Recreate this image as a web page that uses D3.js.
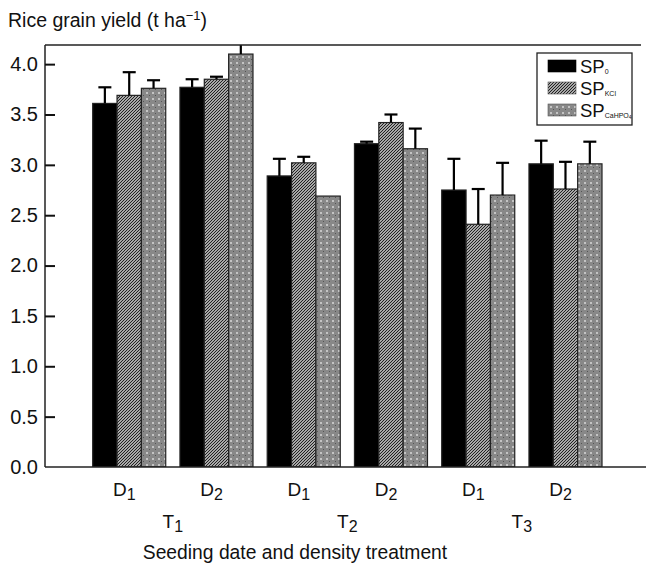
<!DOCTYPE html>
<html>
<head>
<meta charset="utf-8">
<script src="https://cdn.jsdelivr.net/npm/d3@7/dist/d3.min.js"></script>
<style>
  html, body { margin: 0; padding: 0; background: #fff; }
  svg { display: block; }
  text { font-family: "Liberation Sans", Arial, sans-serif; fill: #111; }
</style>
</head>
<body>
<svg id="chart" width="646" height="565"></svg>
<script>
// Treatment combinations (seeding date T × density D)
const groups = ["T1D1", "T1D2", "T2D1", "T2D2", "T3D1", "T3D2"];
const densityLabels = ["1", "2", "1", "2", "1", "2"];
const dateLabels = ["1", "2", "3"];

// Phosphorus treatments
const seriesKeys = ["sp0", "spKCl", "spCaHPO4"];
const seriesSubs = ["0", "KCl", "CaHPO4"];

// Mean grain yield (t/ha) and upper error (t/ha)
const sp0 = [3.61, 3.77, 2.89, 3.21, 2.75, 3.01];
const sp0Err = [0.16, 0.08, 0.17, 0.02, 0.31, 0.23];
const spKCl = [3.69, 3.85, 3.02, 3.42, 2.41, 2.76];
const spKClErr = [0.23, 0.025, 0.06, 0.08, 0.35, 0.27];
const spCaHPO4 = [3.76, 4.10, 2.69, 3.16, 2.70, 3.01];
const spCaHPO4Err = [0.08, 0.15, 0, 0.20, 0.32, 0.22];

const yTicks = [0, 0.5, 1.0, 1.5, 2.0, 2.5, 3.0, 3.5, 4.0];

const values = { sp0, spKCl, spCaHPO4 };
const errors = { sp0: sp0Err, spKCl: spKClErr, spCaHPO4: spCaHPO4Err };

const svg = d3.select("#chart");

const plot = { left: 45, right: 641, top: 45, bottom: 467 };

const y = d3.scaleLinear().domain([0, 4.19]).range([plot.bottom, plot.top]);
const xGroup = d3.scaleBand().domain(groups).range([92.7, 602]).paddingInner(0.163).paddingOuter(0);
const xSeries = d3.scaleBand().domain(seriesKeys).range([0, xGroup.bandwidth()]);

// Fill patterns
const defs = svg.append("defs");
const hatch = defs.append("pattern")
  .attr("id", "hatch").attr("patternUnits", "userSpaceOnUse")
  .attr("width", 3).attr("height", 3);
hatch.append("rect").attr("width", 3).attr("height", 3).attr("fill", "#e8e8e8");
hatch.append("path").attr("d", "M-1,1 l2,-2 M0,3 l3,-3 M2,4 l2,-2")
  .attr("stroke", "#1a1a1a").attr("stroke-width", 1.2);

const dots = defs.append("pattern")
  .attr("id", "dots").attr("patternUnits", "userSpaceOnUse")
  .attr("width", 6).attr("height", 6);
dots.append("rect").attr("width", 6).attr("height", 6).attr("fill", "#888");
dots.append("rect").attr("x", 2).attr("y", 2).attr("width", 2).attr("height", 2).attr("fill", "#c4c4c4");
dots.append("rect").attr("x", 5).attr("y", 5).attr("width", 1).attr("height", 1).attr("fill", "#555");

const fills = { sp0: "#000", spKCl: "url(#hatch)", spCaHPO4: "url(#dots)" };

defs.append("clipPath").attr("id", "plotclip")
  .append("rect").attr("x", plot.left).attr("y", plot.top)
  .attr("width", plot.right - plot.left).attr("height", plot.bottom - plot.top);

// Bars
const barData = [];
groups.forEach((g, i) => {
  seriesKeys.forEach(k => {
    barData.push({ g, k, v: values[k][i], e: errors[k][i] });
  });
});

const gBars = svg.append("g").attr("clip-path", "url(#plotclip)");

gBars.selectAll("rect.bar").data(barData).join("rect")
  .attr("class", "bar")
  .attr("x", d => xGroup(d.g) + xSeries(d.k))
  .attr("y", d => y(d.v))
  .attr("width", xSeries.bandwidth())
  .attr("height", d => y(0) - y(d.v))
  .attr("fill", d => fills[d.k])
  .attr("stroke", "#222")
  .attr("stroke-width", 1.2);

// Upper error bars
const errData = barData.filter(d => d.e > 0);
const capHalf = 6.5;
const cx = d => xGroup(d.g) + xSeries(d.k) + xSeries.bandwidth() / 2;
gBars.selectAll("line.err").data(errData).join("line")
  .attr("class", "err")
  .attr("x1", cx).attr("x2", cx)
  .attr("y1", d => y(d.v))
  .attr("y2", d => y(d.v + d.e))
  .attr("stroke", "#000").attr("stroke-width", 2.2);
gBars.selectAll("line.cap").data(errData).join("line")
  .attr("class", "cap")
  .attr("x1", d => cx(d) - capHalf)
  .attr("x2", d => cx(d) + capHalf)
  .attr("y1", d => y(d.v + d.e))
  .attr("y2", d => y(d.v + d.e))
  .attr("stroke", "#000").attr("stroke-width", 2.2);

// Frame lines: top and bottom
svg.append("line").attr("x1", plot.left).attr("x2", plot.right)
  .attr("y1", plot.top).attr("y2", plot.top)
  .attr("stroke", "#222").attr("stroke-width", 1.5);
svg.append("line").attr("x1", plot.left).attr("x2", 646)
  .attr("y1", plot.bottom).attr("y2", plot.bottom)
  .attr("stroke", "#222").attr("stroke-width", 1.5);

// Y axis with inward ticks
const yAxis = d3.axisLeft(y).tickValues(yTicks).tickFormat(d3.format(".1f"))
  .tickSize(-10).tickPadding(7);
const gy = svg.append("g").attr("transform", `translate(${plot.left},0)`).call(yAxis);
gy.select(".domain").attr("stroke", "#222").attr("stroke-width", 1.5)
  .attr("d", `M0,${plot.bottom}V${plot.top}`);
gy.selectAll(".tick line").attr("stroke", "#111").attr("stroke-width", 2);
gy.selectAll(".tick text").attr("font-size", 20).attr("font-family", "Liberation Sans, Arial, sans-serif").attr("fill", "#111");
gy.selectAll(".tick").filter(d => d === 0).select("line").remove();

// Density labels under each group
const dl = svg.append("g").selectAll("text").data(groups).join("text")
  .attr("x", d => xGroup(d) + xGroup.bandwidth() / 2 - 5)
  .attr("y", 496)
  .attr("text-anchor", "middle")
  .attr("font-size", 19);
dl.append("tspan").text("D");
dl.append("tspan").attr("dy", 4).attr("font-size", 16).text((d, i) => densityLabels[i]);

// Seeding date labels between pairs
const tl = svg.append("g").selectAll("text").data(dateLabels).join("text")
  .attr("x", (d, i) => (xGroup(groups[i * 2]) + xGroup(groups[i * 2 + 1]) + xGroup.bandwidth()) / 2)
  .attr("y", 528)
  .attr("text-anchor", "middle")
  .attr("font-size", 19);
tl.append("tspan").text("T");
tl.append("tspan").attr("dy", 4).attr("font-size", 16).text(d => d);

// Axis titles
svg.append("text").attr("x", 295).attr("y", 559).attr("text-anchor", "middle")
  .attr("font-size", 19.3).text("Seeding date and density treatment");

const yt = svg.append("text").attr("x", 8).attr("y", 27).attr("font-size", 19.5);
yt.append("tspan").text("Rice grain yield (t ha");
yt.append("tspan").attr("dy", -7).attr("font-size", 13).text("\u22121");
yt.append("tspan").attr("dy", 7).text(")");

// Legend
const lg = svg.append("g").attr("transform", "translate(537,53)");
lg.append("rect").attr("width", 95).attr("height", 72)
  .attr("fill", "#fff").attr("stroke", "#222").attr("stroke-width", 1.3);
seriesKeys.forEach((k, i) => {
  const row = lg.append("g").attr("transform", `translate(11,${13 + i * 22})`);
  row.append("rect").attr("y", -6).attr("width", 28).attr("height", 12)
    .attr("fill", fills[k]).attr("stroke", k === "sp0" ? "#000" : "#555").attr("stroke-width", 0.6);
  const t = row.append("text").attr("x", 32).attr("y", 7).attr("font-size", 18.5);
  t.append("tspan").text("SP");
  t.append("tspan").attr("dy", 1).attr("font-size", 7).text(seriesSubs[i] === "CaHPO4" ? "CaHPO" : seriesSubs[i]);
  if (seriesSubs[i] === "CaHPO4") {
    t.append("tspan").attr("dy", 1).attr("font-size", 5).text("4");
  }
});
</script>
</body>
</html>
